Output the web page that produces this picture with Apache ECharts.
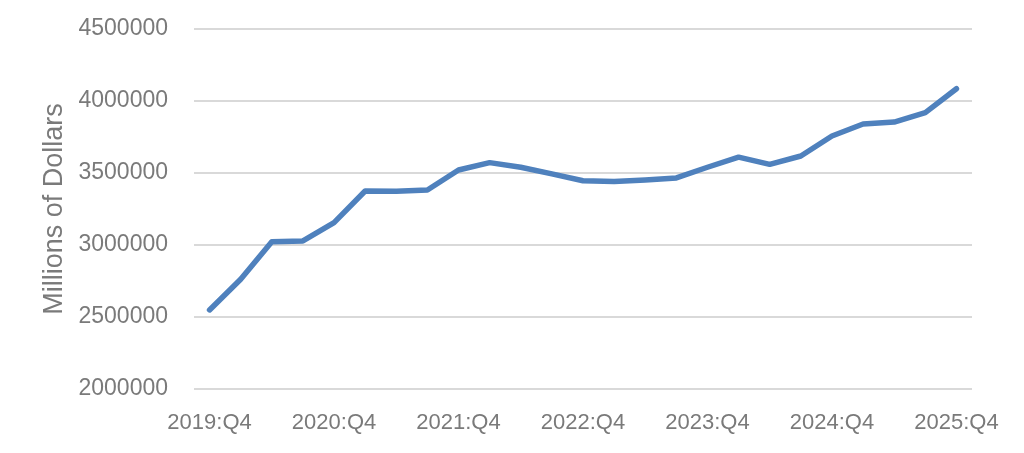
<!DOCTYPE html>
<html>
<head>
<meta charset="utf-8">
<script src="https://cdn.jsdelivr.net/npm/echarts@6/dist/echarts.min.js"></script>
<style>
  html, body { margin: 0; padding: 0; background: #fff; }
  #chart { width: 1024px; height: 453px; }
</style>
</head>
<body>
<div id="chart"></div>
<script>
// quarters from 2019:Q4 to 2025:Q4
const quarters = [
  "2019:Q4", "2020:Q1", "2020:Q2", "2020:Q3",
  "2020:Q4", "2021:Q1", "2021:Q2", "2021:Q3",
  "2021:Q4", "2022:Q1", "2022:Q2", "2022:Q3",
  "2022:Q4", "2023:Q1", "2023:Q2", "2023:Q3",
  "2023:Q4", "2024:Q1", "2024:Q2", "2024:Q3",
  "2024:Q4", "2025:Q1", "2025:Q2", "2025:Q3",
  "2025:Q4"
];

// millions of dollars
const values = [
  2549000, 2762000, 3023000, 3028000,
  3155000, 3375000, 3374000, 3382000,
  3521000, 3572000, 3540000, 3494000,
  3446000, 3441000, 3452000, 3466000,
  3540000, 3610000, 3560000, 3618000,
  3757000, 3840000, 3854000, 3919000,
  4085000
];

const yTicks = [2000000, 2500000, 3000000, 3500000, 4000000, 4500000];

const chart = echarts.init(document.getElementById("chart"));

const option = {
  animation: false,
  textStyle: { fontFamily: "Liberation Sans" },
  grid: { left: 194, right: 52, top: 29, bottom: 64 },
  xAxis: {
    type: "category",
    data: quarters,
    boundaryGap: true,
    axisLine: { show: false },
    axisTick: { show: false },
    axisLabel: {
      color: "#7a7a7a",
      fontSize: 22,
      margin: 23,
      interval: 3
    }
  },
  yAxis: {
    type: "value",
    min: yTicks[0],
    max: yTicks[yTicks.length - 1],
    interval: 500000,
    name: "Millions of Dollars",
    nameLocation: "middle",
    nameGap: 124,
    nameTextStyle: { color: "#7a7a7a", fontSize: 27 },
    axisLine: { show: false },
    axisTick: { show: false },
    axisLabel: {
      color: "#7a7a7a",
      fontSize: 23,
      margin: 26,
      formatter: (v) => String(v)
    },
    splitLine: { lineStyle: { color: "#d9d9d9", width: 2 } }
  },
  series: [
    {
      type: "line",
      data: values,
      showSymbol: false,
      lineStyle: { color: "#4f81bd", width: 5.5, cap: "round", join: "round" }
    }
  ]
};

chart.setOption(option);
</script>
</body>
</html>
